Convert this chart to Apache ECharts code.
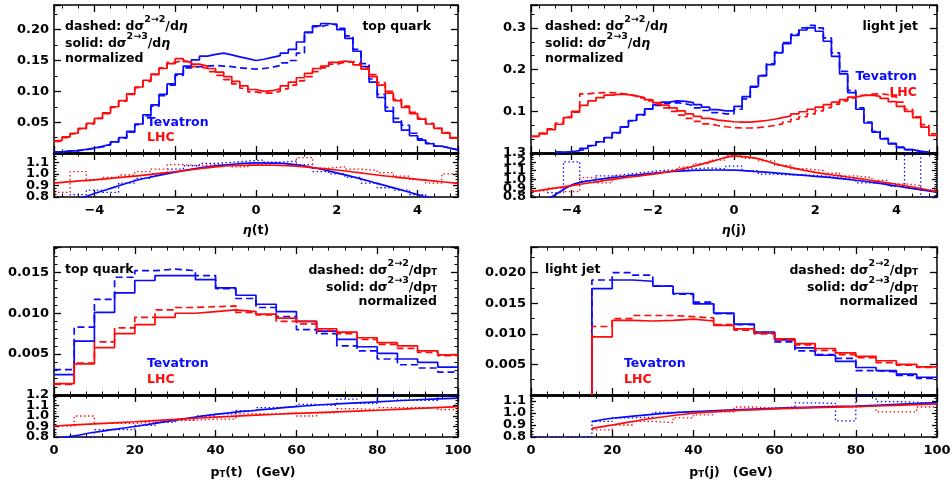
<!DOCTYPE html>
<html><head><meta charset="utf-8">
<script src="https://cdn.jsdelivr.net/npm/echarts@6/dist/echarts.min.js"></script>
<style>html,body{margin:0;padding:0;background:#fff}#c{width:952px;height:481px}</style>
</head><body><div id="c"></div>
<script>
// ---------------- DATA ----------------
// eta bins: -5 .. 5, width 0.2 (50 bins); ratio eta bins width 0.4 (25 bins)
// pT bins: 0 .. 100, width 5 GeV (20 bins); light-jet pT histograms start at 15 GeV
const etaEdges = []; for (let i = 0; i <= 50; i++) etaEdges.push(+(-5 + 0.2 * i).toFixed(1));
const etaRatioEdges = []; for (let i = 0; i <= 25; i++) etaRatioEdges.push(+(-5 + 0.4 * i).toFixed(1));
const ptEdges = []; for (let i = 0; i <= 20; i++) ptEdges.push(5 * i);
const ljPtEdges = ptEdges.slice(3);

// top quark, eta
const tqEtaTevSolid = [0.002,0.003,0.004,0.006,0.008,0.011,0.014,0.018,0.025,0.035,
  0.047,0.062,0.078,0.095,0.112,0.128,0.141,0.151,0.157,0.160,
  0.162,0.159,0.156,0.153,0.150,0.152,0.155,0.158,0.162,0.168,
  0.180,0.196,0.206,0.210,0.208,0.200,0.186,0.165,0.140,0.115,
  0.090,0.068,0.050,0.037,0.028,0.021,0.015,0.011,0.008,0.005];
const tqEtaTevDashed = [0.002,0.003,0.004,0.005,0.008,0.010,0.013,0.018,0.024,0.034,
  0.046,0.060,0.076,0.093,0.110,0.126,0.138,0.140,0.141,0.142,
  0.141,0.140,0.138,0.137,0.136,0.137,0.139,0.142,0.146,0.150,
  0.162,0.195,0.205,0.208,0.209,0.202,0.190,0.168,0.145,0.120,
  0.095,0.074,0.056,0.045,0.032,0.023,0.016,0.011,0.008,0.005];
const tqEtaLhcSolid = [0.020,0.026,0.032,0.040,0.048,0.056,0.065,0.075,0.085,0.096,
  0.107,0.118,0.128,0.137,0.145,0.153,0.148,0.144,0.141,0.137,
  0.131,0.124,0.116,0.109,0.103,0.100,0.101,0.104,0.109,0.115,
  0.122,0.129,0.137,0.141,0.147,0.149,0.148,0.143,0.136,0.124,
  0.110,0.097,0.085,0.074,0.064,0.055,0.047,0.040,0.032,0.024];
const tqEtaLhcDashed = [0.019,0.025,0.031,0.039,0.047,0.056,0.064,0.074,0.084,0.095,
  0.106,0.116,0.127,0.138,0.147,0.150,0.147,0.140,0.137,0.132,
  0.126,0.119,0.112,0.105,0.099,0.097,0.097,0.100,0.104,0.110,
  0.117,0.124,0.132,0.138,0.144,0.147,0.148,0.145,0.138,0.127,
  0.114,0.100,0.087,0.076,0.066,0.056,0.048,0.040,0.033,0.025];
const tqEtaTevRatio = [0.78,0.82,0.86,0.84,0.92,0.96,1.00,1.04,1.07,1.09,1.10,1.11,1.12,1.10,1.11,1.08,1.02,1.00,0.97,0.92,0.88,0.86,0.82,0.79,0.78];
const tqEtaLhcRatio = [0.84,1.02,0.95,0.97,0.99,1.02,1.04,1.08,1.07,1.08,1.08,1.06,1.08,1.07,1.08,1.14,1.05,1.06,1.04,1.03,1.01,0.98,0.95,0.92,1.00];
const etaFitX = [-5,-4.5,-4,-3.5,-3,-2.5,-2,-1.5,-1,-0.5,0,0.5,1,1.5,2,2.5,3,3.5,4,4.5,5];
const tqEtaTevFit = [0.72,0.77,0.83,0.885,0.94,0.98,1.015,1.045,1.068,1.085,1.094,1.092,1.078,1.048,1.008,0.965,0.918,0.87,0.82,0.77,0.71];
const tqEtaLhcFit = [0.92,0.935,0.948,0.965,0.98,1.0,1.018,1.04,1.06,1.072,1.076,1.074,1.066,1.05,1.033,1.012,0.99,0.97,0.953,0.935,0.918];

// light jet, eta
const ljEtaTevSolid = [null,null,null,0.002,0.003,0.006,0.011,0.018,0.027,0.037,
  0.049,0.063,0.078,0.092,0.106,0.116,0.122,0.125,0.124,0.121,
  0.116,0.110,0.104,0.101,0.101,0.112,0.135,0.160,0.185,0.212,
  0.240,0.262,0.282,0.295,0.300,0.292,0.268,0.232,0.190,0.145,
  0.105,0.072,0.050,0.034,0.022,0.013,0.008,0.004,0.002,null];
const ljEtaTevDashed = [null,null,null,0.002,0.003,0.006,0.010,0.017,0.026,0.036,
  0.048,0.062,0.077,0.091,0.105,0.114,0.119,0.121,0.118,0.114,
  0.108,0.102,0.097,0.094,0.094,0.105,0.130,0.158,0.186,0.214,
  0.242,0.265,0.285,0.300,0.306,0.300,0.276,0.240,0.196,0.150,
  0.108,0.074,0.052,0.035,0.023,0.014,0.008,0.004,0.002,null];
const ljEtaLhcSolid = [0.040,0.046,0.056,0.069,0.085,0.100,0.114,0.125,0.133,0.139,
  0.141,0.140,0.137,0.133,0.128,0.121,0.115,0.108,0.101,0.094,
  0.088,0.083,0.079,0.077,0.075,0.074,0.074,0.076,0.078,0.081,
  0.085,0.089,0.094,0.099,0.105,0.110,0.116,0.122,0.128,0.134,
  0.138,0.139,0.136,0.131,0.123,0.112,0.100,0.085,0.062,0.042];
const ljEtaLhcDashed = [0.040,0.048,0.058,0.072,0.086,0.098,0.142,0.144,0.145,0.145,
  0.143,0.140,0.137,0.132,0.125,0.117,0.108,0.100,0.091,0.083,
  0.076,0.070,0.066,0.063,0.061,0.060,0.060,0.061,0.063,0.066,
  0.070,0.075,0.081,0.087,0.094,0.101,0.109,0.117,0.125,0.132,
  0.138,0.141,0.142,0.140,0.135,0.122,0.105,0.087,0.068,0.046];
const ljEtaTevRatio = [null,0.85,1.20,0.98,1.04,1.06,1.08,1.10,1.11,1.12,1.13,1.12,1.15,1.10,1.06,1.05,1.05,1.04,1.02,1.00,0.96,0.95,0.92,1.30,0.80];
const ljEtaLhcRatio = [0.87,0.90,0.86,1.02,0.96,1.04,1.06,1.08,1.10,1.14,1.18,1.22,1.27,1.24,1.21,1.16,1.12,1.10,1.07,1.04,1.02,0.99,0.95,0.93,0.88];
const ljEtaTevFit = [0.70,0.80,0.935,0.99,1.02,1.045,1.07,1.09,1.103,1.107,1.105,1.09,1.075,1.055,1.035,1.015,0.99,0.96,0.925,0.89,0.855];
const ljEtaLhcFit = [0.86,0.895,0.93,0.965,1.0,1.03,1.06,1.095,1.15,1.21,1.265,1.245,1.18,1.125,1.08,1.045,1.015,0.98,0.945,0.905,0.86];

// top quark, pT
const tqPtTevSolid = [0.0025,0.0066,0.0101,0.0125,0.0140,0.0146,0.0146,0.0141,0.0131,0.0122,0.0111,0.0102,0.0090,0.0078,0.0068,0.0059,0.0051,0.0044,0.0040,0.0034];
const tqPtTevDashed = [0.0031,0.0083,0.0117,0.0144,0.0152,0.0154,0.0152,0.0146,0.0130,0.0118,0.0107,0.0096,0.0080,0.0075,0.0060,0.0054,0.0044,0.0037,0.0033,0.0028];
const tqPtLhcSolid = [0.0014,0.0038,0.0058,0.0075,0.0086,0.0095,0.0100,0.0102,0.0104,0.0102,0.0099,0.0094,0.0090,0.0081,0.0077,0.0070,0.0064,0.0060,0.0054,0.0049];
const tqPtLhcDashed = [0.0013,0.0039,0.0065,0.0082,0.0095,0.0104,0.0107,0.0108,0.0109,0.0101,0.0098,0.0090,0.0087,0.0079,0.0075,0.0068,0.0062,0.0057,0.0052,0.0048];
const tqPtTevRatio = [0.79,0.80,0.87,0.87,0.91,0.94,0.96,1.00,1.02,1.05,1.08,1.09,1.11,1.10,1.16,1.12,1.19,1.15,1.15,1.20];
const tqPtLhcRatio = [0.905,1.00,0.93,0.93,0.94,0.955,0.96,0.97,0.97,1.02,1.02,1.03,1.00,1.03,1.07,1.06,1.08,1.08,1.08,1.06];
const ptFitX = [0,5,10,20,30,40,50,60,70,80,90,100];
const tqPtTevFit = [0.78,0.81,0.845,0.90,0.96,1.015,1.055,1.09,1.115,1.135,1.155,1.17];
const tqPtLhcFit = [0.905,0.915,0.925,0.945,0.967,0.99,1.008,1.025,1.04,1.055,1.072,1.09];

// light jet, pT (bins from 15 GeV)
const ljPtTevSolid = [0.0174,0.0188,0.0186,0.0178,0.0166,0.0149,0.0134,0.0116,0.0103,0.0090,0.0077,0.0065,0.0055,0.0045,0.0040,0.0034,0.0029];
const ljPtTevDashed = [0.0188,0.0200,0.0196,0.0178,0.0165,0.0152,0.0133,0.0115,0.0102,0.0087,0.0072,0.0066,0.0060,0.0040,0.0038,0.0032,0.0027];
const ljPtLhcSolid = [0.0095,0.0122,0.0121,0.0122,0.0124,0.0121,0.0114,0.0108,0.0101,0.0092,0.0084,0.0076,0.0069,0.0063,0.0056,0.0050,0.0046];
const ljPtLhcDashed = [0.0112,0.0125,0.0130,0.0130,0.0128,0.0126,0.0115,0.0106,0.0100,0.0090,0.0082,0.0073,0.0066,0.0061,0.0053,0.0049,0.0045];
const ljPtTevRatio = [0.8,0.8,0.8,0.93,0.96,0.965,1.005,1.01,1.01,1.02,1.03,1.04,1.05,1.085,1.08,0.935,1.15,1.095,1.09,1.08];
const ljPtLhcRatio = [null,null,null,0.86,0.90,0.93,0.92,0.96,0.985,1.01,1.05,1.04,1.035,1.05,1.06,1.05,1.06,1.01,1.01,1.05];
const ljFitX = [15,20,30,40,50,60,70,80,90,100];
const ljPtTevFit = [0.928,0.956,0.989,1.011,1.027,1.039,1.049,1.058,1.072,1.086];
const ljPtLhcFit = [0.872,0.90,0.956,0.998,1.02,1.035,1.045,1.053,1.064,1.075];

// ---------------- CHART ----------------
const BLUE = '#0a0aff', RED = '#ff0a0a';
const FONT = '"DejaVu Sans", sans-serif';
const chart = echarts.init(document.getElementById('c'), null, {renderer: 'canvas'});

const panels = [
  {left:54, width:404, top:5, mainH:148, ratioH:44, xMin:-5, xMax:5, xSplit:5,
   yMax:0.24, yInt:0.05, yDec:2, yMinor:2, rMax:1.18, rShowMax:false,
   edges:etaEdges, rEdges:etaRatioEdges, lead0:false,
   tevS:tqEtaTevSolid, tevD:tqEtaTevDashed, lhcS:tqEtaLhcSolid, lhcD:tqEtaLhcDashed,
   tevR:tqEtaTevRatio, lhcR:tqEtaLhcRatio, fitX:etaFitX, tevF:tqEtaTevFit, lhcF:tqEtaLhcFit},
  {left:531, width:406, top:5, mainH:148, ratioH:44, xMin:-5, xMax:5, xSplit:5,
   yMax:0.355, yInt:0.1, yDec:1, yMinor:3, rMax:1.3, rShowMax:true,
   edges:etaEdges, rEdges:etaRatioEdges, lead0:false,
   tevS:ljEtaTevSolid, tevD:ljEtaTevDashed, lhcS:ljEtaLhcSolid, lhcD:ljEtaLhcDashed,
   tevR:ljEtaTevRatio, lhcR:ljEtaLhcRatio, fitX:etaFitX, tevF:ljEtaTevFit, lhcF:ljEtaLhcFit},
  {left:54, width:404, top:247, mainH:148, ratioH:42, xMin:0, xMax:100, xInt:20,
   yMax:0.0181, yInt:0.005, yDec:3, yMinor:5, rMax:1.2, rShowMax:true,
   edges:ptEdges, rEdges:ptEdges, lead0:false,
   tevS:tqPtTevSolid, tevD:tqPtTevDashed, lhcS:tqPtLhcSolid, lhcD:tqPtLhcDashed,
   tevR:tqPtTevRatio, lhcR:tqPtLhcRatio, fitX:ptFitX, tevF:tqPtTevFit, lhcF:tqPtLhcFit},
  {left:531, width:406, top:247, mainH:148, ratioH:42, xMin:0, xMax:100, xInt:20,
   yMax:0.0242, yInt:0.005, yDec:3, yMinor:2, rMax:1.15, rShowMax:false,
   edges:ljPtEdges, rEdges:ptEdges, lead0:true,
   tevS:ljPtTevSolid, tevD:ljPtTevDashed, lhcS:ljPtLhcSolid, lhcD:ljPtLhcDashed,
   tevR:ljPtTevRatio, lhcR:ljPtLhcRatio, fitX:ljFitX, tevF:ljPtTevFit, lhcF:ljPtLhcFit}
];

const grids = [], xAxes = [], yAxes = [], extraY = [], series = [];
const labelStyle = {color:'#000', fontFamily:FONT, fontWeight:'bold', fontSize:13, hideOverlap:false};
const minusFmt = v => String(v).replace('-', '\u2212');

function xAxis(gi, p, pos, lineW, showLabel) {
  const ax = {type:'value', gridIndex:gi, position:pos, min:p.xMin, max:p.xMax,
    axisLine:{show:true, onZero:false, lineStyle:{color:'#000', width:lineW}},
    axisTick:{show:true, inside:true, length:7, lineStyle:{color:'#000', width:1.3}},
    minorTick:{show:true, splitNumber:5, length:3.5, lineStyle:{color:'#000', width:1}},
    splitLine:{show:false}, minorSplitLine:{show:false},
    axisLabel:Object.assign({show:showLabel, margin:7, showMinLabel:p.xInt ? true : false,
      showMaxLabel:p.xInt ? true : false, formatter:minusFmt}, labelStyle)};
  if (p.xInt) ax.interval = p.xInt; else ax.splitNumber = p.xSplit;
  return ax;
}
function yAxis(gi, pos, min, max, interval, minor, fmt, showMin, showMax, showLabel, tickLen) {
  return {type:'value', gridIndex:gi, position:pos, min, max, interval,
    axisLine:{show:true, onZero:false, lineStyle:{color:'#000', width:1.5}},
    axisTick:{show:true, inside:true, length:tickLen, lineStyle:{color:'#000', width:1.3}},
    minorTick:{show:true, splitNumber:minor, length:tickLen/2, lineStyle:{color:'#000', width:1}},
    splitLine:{show:false}, minorSplitLine:{show:false},
    axisLabel:Object.assign({}, labelStyle, {show:showLabel, margin:5, showMinLabel:showMin,
      showMaxLabel:showMax, formatter:fmt})};
}
function hist(edges, vals, color, type, ai, lead0, width) {
  const data = [];
  if (lead0) data.push([edges[0], 0]);
  vals.forEach((v, i) => data.push([edges[i], v]));
  data.push([edges[vals.length], vals[vals.length - 1]]);
  return {type:'line', step:'end', xAxisIndex:ai, yAxisIndex:ai, data, symbol:'none',
    silent:true, animation:false, clip:true, lineStyle:{color, width, type}};
}
function fit(xs, ys, color, ai) {
  return {type:'line', smooth:0.4, xAxisIndex:ai, yAxisIndex:ai, symbol:'none', silent:true,
    clip:true, data:xs.map((x, i) => [x, ys[i]]), lineStyle:{color, width:1.7}};
}

panels.forEach((p, k) => {
  const gMain = 2 * k, gRat = 2 * k + 1;
  grids.push({left:p.left, top:p.top, width:p.width, height:p.mainH, containLabel:false, outerBoundsMode:'none'});
  grids.push({left:p.left, top:p.top + p.mainH, width:p.width, height:p.ratioH, containLabel:false, outerBoundsMode:'none'});
  xAxes.push(xAxis(gMain, p, 'bottom', 2.5, false));
  xAxes.push(xAxis(gMain, p, 'top', 1.5, false));
  xAxes.push(xAxis(gRat, p, 'bottom', 1.5, true));
  xAxes.push(xAxis(gRat, p, 'top', 2.5, false));
  const mFmt = v => (v === 0 ? '' : v.toFixed(p.yDec));
  yAxes.push(yAxis(gMain, 'left', 0, p.yMax, p.yInt, p.yMinor, mFmt, false, false, true, 7));
  yAxes.push(yAxis(gMain, 'right', 0, p.yMax, p.yInt, p.yMinor, mFmt, false, false, false, 7));
  // ratio axis: inner labels (min/max suppressed so neighbours are not removed)
  const rFmt = v => v.toFixed(1);
  yAxes.push(yAxis(gRat, 'left', 0.8, p.rMax, 0.1, 4, rFmt, false, false, true, 5));
  yAxes.push(yAxis(gRat, 'right', 0.8, p.rMax, 0.1, 4, rFmt, false, false, false, 5));
  // companion axis carrying only the end labels (0.8 and, where shown, the top value)
  const endFmt = v => (Math.abs(v - 0.8) < 1e-6 || (p.rShowMax && Math.abs(v - p.rMax) < 1e-6)) ? v.toFixed(1) : '';
  const ex = yAxis(gRat, 'left', 0.8, p.rMax, 0.1, 4, endFmt, true, p.rShowMax, true, 5);
  ex.axisLine.show = false; ex.axisTick.show = false; ex.minorTick.show = false;
  extraY.push(ex);
  const aMain = 2 * gMain, aRat = 2 * gRat;
  series.push(hist(p.edges, p.tevS, BLUE, 'solid', aMain, p.lead0, 1.7));
  series.push(hist(p.edges, p.tevD, BLUE, [7, 4], aMain, p.lead0, 1.7));
  series.push(hist(p.edges, p.lhcS, RED, 'solid', aMain, p.lead0, 1.7));
  series.push(hist(p.edges, p.lhcD, RED, [7, 4], aMain, p.lead0, 1.7));
  series.push(hist(p.rEdges, p.tevR, BLUE, [1.5, 2.5], aRat, false, 1.3));
  series.push(hist(p.rEdges, p.lhcR, RED, [1.5, 2.5], aRat, false, 1.3));
  series.push(fit(p.fitX, p.tevF, BLUE, aRat));
  series.push(fit(p.fitX, p.lhcF, RED, aRat));
});
extraY.forEach(a => yAxes.push(a));

// ---------- annotations ----------
const AF = 12.5;
const rich = {
  b:{font:'bold ' + AF + 'px ' + FONT, lineHeight:18, verticalAlign:'bottom'},
  e:{font:'italic bold ' + AF + 'px ' + FONT, lineHeight:18, verticalAlign:'bottom'},
  sup:{font:'bold 9.5px ' + FONT, lineHeight:9, verticalAlign:'top'},
  sub:{font:'bold 8.5px ' + FONT, lineHeight:8, verticalAlign:'bottom'}
};
function txt(x, y, text, align, fill) {
  return {type:'text', x, y, silent:true, z:10,
    style:{text, rich, fill:fill || '#000', align:align || 'left', verticalAlign:'middle',
      font:'bold ' + AF + 'px ' + FONT}};
}
const etaDashed = '{b|dashed: d\u03c3}{sup|2\u21922}{b|/d}{e|\u03b7}';
const etaSolid = '{b|solid: d\u03c3}{sup|2\u21923}{b|/d}{e|\u03b7}';
const ptDashed = '{b|dashed: d\u03c3}{sup|2\u21922}{b|/dp}{sub|T}';
const ptSolid = '{b|solid: d\u03c3}{sup|2\u21923}{b|/dp}{sub|T}';
const graphics = [
  txt(65, 24, etaDashed), txt(65, 41, etaSolid), txt(65, 56, '{b|normalized}'),
  txt(431, 24, '{b|top quark}', 'right'),
  txt(147, 123, 'Tevatron', 'left', BLUE), txt(147, 138, 'LHC', 'left', RED),
  txt(545, 24, etaDashed), txt(545, 41, etaSolid), txt(545, 56, '{b|normalized}'),
  txt(918, 24, '{b|light jet}', 'right'),
  txt(917, 77, 'Tevatron', 'right', BLUE), txt(917, 93, 'LHC', 'right', RED),
  txt(65, 267, '{b|top quark}'),
  txt(437, 268, ptDashed, 'right'), txt(437, 285, ptSolid, 'right'), txt(437, 299, '{b|normalized}', 'right'),
  txt(147, 364, 'Tevatron', 'left', BLUE), txt(147, 380, 'LHC', 'left', RED),
  txt(545, 267, '{b|light jet}'),
  txt(918, 268, ptDashed, 'right'), txt(918, 285, ptSolid, 'right'), txt(918, 299, '{b|normalized}', 'right'),
  txt(624, 364, 'Tevatron', 'left', BLUE), txt(624, 380, 'LHC', 'left', RED),
  txt(256, 228, '{e|\u03b7}{b|(t)}', 'center'),
  txt(734, 228, '{e|\u03b7}{b|(j)}', 'center'),
  txt(253, 470, '{b|p}{sub|T}{b|(t)   (GeV)}', 'center'),
  txt(731, 470, '{b|p}{sub|T}{b|(j)   (GeV)}', 'center')
];

chart.setOption({
  animation:false,
  backgroundColor:'#fff',
  grid:grids, xAxis:xAxes, yAxis:yAxes, series,
  graphic:graphics
});
</script></body></html>
